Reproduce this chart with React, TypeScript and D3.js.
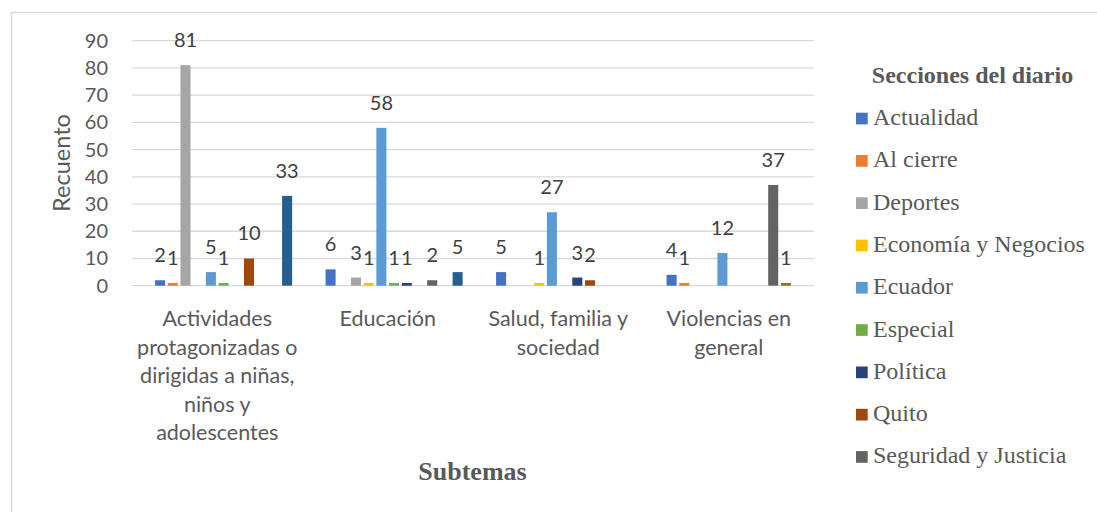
import * as d3 from "d3";

// Subtemas (eje X)
const categories = [
  "Actividades protagonizadas o dirigidas a niñas, niños y adolescentes",
  "Educación",
  "Salud, familia y sociedad",
  "Violencias en general",
];

// Etiquetas de categoría partidas en líneas como en el original
const categoryLines = [
  ["Actividades", "protagonizadas o", "dirigidas a niñas,", "niños y", "adolescentes"],
  ["Educación"],
  ["Salud, familia y", "sociedad"],
  ["Violencias en", "general"],
];

// Secciones del diario (series). Las dos últimas no caben en la leyenda original.
const seriesNames = [
  "Actualidad",
  "Al cierre",
  "Deportes",
  "Economía y Negocios",
  "Ecuador",
  "Especial",
  "Política",
  "Quito",
  "Seguridad y Justicia",
  "Serie 10",
  "Serie 11",
];

const seriesColors = [
  "#4472C4",
  "#ED7D31",
  "#A5A5A5",
  "#FFC000",
  "#5B9BD5",
  "#70AD47",
  "#264478",
  "#9E480E",
  "#636363",
  "#997300",
  "#255E91",
];

// valores por serie, en el orden de categories (0 = sin dato)
const actualidad = [2, 6, 5, 4];
const alCierre = [1, 0, 0, 1];
const deportes = [81, 3, 0, 0];
const economia = [0, 1, 1, 0];
const ecuador = [5, 58, 27, 12];
const especial = [1, 1, 0, 0];
const politica = [0, 1, 3, 0];
const quito = [10, 0, 2, 0];
const seguridad = [0, 2, 0, 37];
const serie10 = [0, 0, 0, 1];
const serie11 = [33, 5, 0, 0];

const seriesValues = [
  actualidad,
  alCierre,
  deportes,
  economia,
  ecuador,
  especial,
  politica,
  quito,
  seguridad,
  serie10,
  serie11,
];

const yTicks = [0, 10, 20, 30, 40, 50, 60, 70, 80, 90];

const WIDTH = 1097;
const HEIGHT = 512;
const SANS = "Lato, 'Open Sans', sans-serif";
const SERIF = "'Liberation Serif', 'Times New Roman', serif";
const AXIS_COLOR = "#595959";
const LABEL_COLOR = "#404040";
const GRID = "#D9D9D9";

export default function App() {
  const plot = { left: 132, right: 814, top: 40.7, bottom: 285.7 };

  const x0 = d3
    .scaleBand<number>()
    .domain(d3.range(categories.length))
    .range([plot.left, plot.right])
    .paddingInner(0.106)
    .paddingOuter(0.053);

  // Excel deja un hueco vacío delante del primer grupo de barras
  const slots = ["", ...seriesNames];
  const x1 = d3
    .scaleBand<string>()
    .domain(slots)
    .range([0, x0.bandwidth()])
    .paddingInner(0.21)
    .paddingOuter(0.105);

  const y = d3.scaleLinear().domain([0, 90]).range([plot.bottom, plot.top]);

  const bars: { key: string; x: number; y: number; w: number; h: number; color: string; v: number }[] = [];
  seriesNames.forEach((name, si) => {
    seriesValues[si].forEach((v, ci) => {
      if (!v) return;
      bars.push({
        key: `${name}-${ci}`,
        x: (x0(ci) ?? 0) + (x1(name) ?? 0),
        y: y(v),
        w: x1.bandwidth(),
        h: y(0) - y(v),
        color: seriesColors[si],
        v,
      });
    });
  });

  const legendNames = seriesNames.slice(0, 9);

  return (
    <div style={{ position: "absolute", left: 0, top: 0 }}>
      <svg width={WIDTH} height={HEIGHT} style={{ display: "block", background: "#fff" }}>
        <rect x={11.5} y={12.5} width={WIDTH} height={HEIGHT} fill="#fff" stroke={GRID} strokeWidth={1.5} />

        {/* grid */}
        {yTicks.map((t) => (
          <line key={t} x1={plot.left} x2={plot.right} y1={y(t)} y2={y(t)} stroke={GRID} strokeWidth={1.3} />
        ))}

        {/* y tick labels */}
        {yTicks.map((t) => (
          <text
            key={t}
            x={108}
            y={y(t) + 7}
            textAnchor="end"
            fontFamily={SANS}
            fontSize={20}
            fill={AXIS_COLOR}
          >
            {t}
          </text>
        ))}

        <text
          transform="translate(70,163) rotate(-90)"
          textAnchor="middle"
          fontFamily={SANS}
          fontSize={23.5}
          fill={AXIS_COLOR}
        >
          Recuento
        </text>

        {/* bars */}
        {bars.map((b) => (
          <rect key={b.key} x={b.x} y={b.y} width={b.w} height={b.h} fill={b.color} />
        ))}

        {/* data labels */}
        {bars.map((b) => (
          <text
            key={`l-${b.key}`}
            x={b.x + b.w / 2}
            y={b.y - 18}
            textAnchor="middle"
            fontFamily={SANS}
            fontSize={20}
            fill={LABEL_COLOR}
          >
            {b.v}
          </text>
        ))}

        {/* category labels */}
        {categoryLines.map((lines, ci) => (
          <text
            key={ci}
            textAnchor="middle"
            fontFamily={SANS}
            fontSize={21.5}
            fill={AXIS_COLOR}
          >
            {lines.map((ln, li) => (
              <tspan key={li} x={(x0(ci) ?? 0) + x0.bandwidth() / 2} y={326 + li * 28.6}>
                {ln}
              </tspan>
            ))}
          </text>
        ))}

        <text
          x={472.5}
          y={480}
          textAnchor="middle"
          fontFamily={SERIF}
          fontWeight="bold"
          fontSize={26}
          fill={AXIS_COLOR}
        >
          Subtemas
        </text>

        {/* legend */}
        <text
          x={972.5}
          y={83}
          textAnchor="middle"
          fontFamily={SERIF}
          fontWeight="bold"
          fontSize={24}
          fill={AXIS_COLOR}
        >
          Secciones del diario
        </text>
        {legendNames.map((name, i) => {
          const by = 125 + i * 42.3;
          return (
            <g key={name}>
              <rect x={856} y={by - 12.3} width={11.7} height={11.7} fill={seriesColors[i]} />
              <text x={873} y={by} fontFamily={SERIF} fontSize={24} fill={AXIS_COLOR}>
                {name}
              </text>
            </g>
          );
        })}
      </svg>
    </div>
  );
}
